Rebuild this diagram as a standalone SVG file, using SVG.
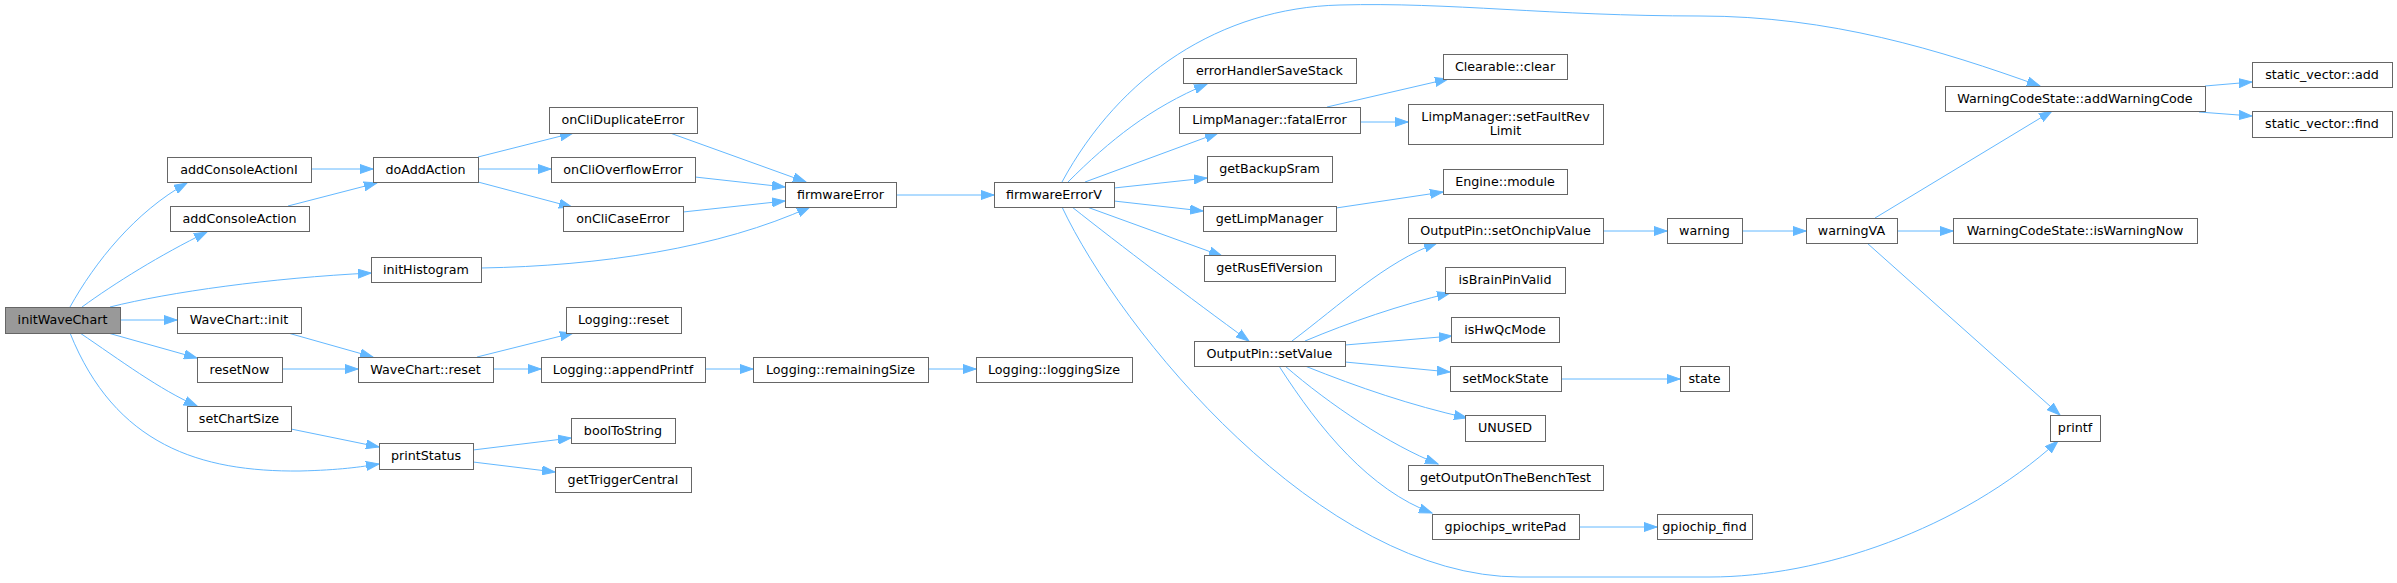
<svg xmlns="http://www.w3.org/2000/svg" width="2397" height="583" viewBox="0 0 2397 583">
<style>
.node rect{fill:#ffffff;stroke:#666666;stroke-width:1}
.root rect{fill:#999999}
text{font-family:"DejaVu Sans","Noto Sans",sans-serif;font-size:12.7px;text-anchor:middle;fill:#000000}
.edges path{fill:none;stroke:#63b8ff;stroke-width:1;marker-end:url(#a)}
</style>
<defs>
<marker id="a" markerWidth="14" markerHeight="10" refX="13" refY="5" orient="auto" markerUnits="userSpaceOnUse" viewBox="0 0 14 10"><path d="M0,0.5 L13,5 L0,9.5z" fill="#63b8ff" stroke="#63b8ff" stroke-width="1"/></marker>
</defs>
<rect width="2397" height="583" fill="#ffffff"/>
<g class="edges">
<path d="M70,307 C95,262 135,212 187,183"/>
<path d="M82,307 C115,283 160,255 207,232"/>
<path d="M110,307 C170,292 270,278 371,273"/>
<path d="M120,320 L177,320"/>
<path d="M108,333 L197,358"/>
<path d="M80,333 C120,360 160,390 197,406"/>
<path d="M70,333 C115,445 200,472 300,471 C340,470 360,467 379,464"/>
<path d="M311,169 L373,169"/>
<path d="M288,206 L377,183"/>
<path d="M288,333 L373,357"/>
<path d="M282,369 L358,369"/>
<path d="M291,429 L379,447"/>
<path d="M478,157 L573,133"/>
<path d="M478,169 L551,169"/>
<path d="M478,182 L572,207"/>
<path d="M670,133 L806,182"/>
<path d="M695,177 L785,187"/>
<path d="M683,212 L785,201"/>
<path d="M481,268 C600,266 720,248 810,207"/>
<path d="M477,357 L573,333"/>
<path d="M493,369 L541,369"/>
<path d="M705,369 L753,369"/>
<path d="M928,369 L976,369"/>
<path d="M473,450 L571,438"/>
<path d="M473,462 L555,472"/>
<path d="M896,195 L994,195"/>
<path d="M1062,182 C1120,75 1220,8 1340,5 C1450,2 1550,16 1700,16 C1830,16 1940,50 2040,86"/>
<path d="M1068,182 C1110,140 1150,108 1207,84"/>
<path d="M1085,182 L1218,133"/>
<path d="M1114,188 L1207,178"/>
<path d="M1114,201 L1203,211"/>
<path d="M1087,207 L1222,256"/>
<path d="M1072,207 C1120,245 1190,298 1249,341"/>
<path d="M1062,207 C1120,330 1320,577 1520,577 L1710,577 C1820,577 1960,530 2058,441"/>
<path d="M1327,107 L1448,79"/>
<path d="M1360,122 L1408,122"/>
<path d="M1336,208 L1443,192"/>
<path d="M1292,341 C1340,305 1385,262 1437,243"/>
<path d="M1305,341 C1350,322 1400,305 1450,293"/>
<path d="M1345,345 L1452,336"/>
<path d="M1345,362 L1450,372"/>
<path d="M1305,366 C1360,388 1410,405 1467,418"/>
<path d="M1285,366 C1330,405 1390,445 1438,464"/>
<path d="M1279,366 C1320,430 1370,490 1432,513"/>
<path d="M1561,379 L1680,379"/>
<path d="M1579,527 L1657,527"/>
<path d="M1603,231 L1667,231"/>
<path d="M1742,231 L1806,231"/>
<path d="M1875,218 L2052,111"/>
<path d="M1897,231 L1953,231"/>
<path d="M1867,243 L2060,415"/>
<path d="M2205,86 L2252,82"/>
<path d="M2199,112 L2252,116"/>
</g>
<g id="n_initWaveChart" class="node root"><rect x="5.5" y="307.5" width="115" height="26"/><text x="62.5" y="324.4">initWaveChart</text></g>
<g id="n_addConsoleActionI" class="node"><rect x="167.5" y="157.5" width="144" height="25"/><text x="239" y="173.9">addConsoleActionI</text></g>
<g id="n_addConsoleAction" class="node"><rect x="170.5" y="206.5" width="139" height="25"/><text x="239.5" y="222.9">addConsoleAction</text></g>
<g id="n_initHistogram" class="node"><rect x="371.5" y="257.5" width="110" height="25"/><text x="426" y="273.9">initHistogram</text></g>
<g id="n_WaveChart_init" class="node"><rect x="177.5" y="307.5" width="124" height="26"/><text x="239" y="324.4">WaveChart::init</text></g>
<g id="n_resetNow" class="node"><rect x="197.5" y="357.5" width="85" height="25"/><text x="239.5" y="373.9">resetNow</text></g>
<g id="n_setChartSize" class="node"><rect x="187.5" y="406.5" width="104" height="25"/><text x="239" y="422.9">setChartSize</text></g>
<g id="n_doAddAction" class="node"><rect x="373.5" y="157.5" width="105" height="25"/><text x="425.5" y="173.9">doAddAction</text></g>
<g id="n_WaveChart_reset" class="node"><rect x="358.5" y="357.5" width="135" height="25"/><text x="425.5" y="373.9">WaveChart::reset</text></g>
<g id="n_printStatus" class="node"><rect x="379.5" y="443.5" width="94" height="26"/><text x="426" y="460.4">printStatus</text></g>
<g id="n_onCliDuplicateError" class="node"><rect x="549.5" y="107.5" width="148" height="26"/><text x="623" y="124.4">onCliDuplicateError</text></g>
<g id="n_onCliOverflowError" class="node"><rect x="551.5" y="157.5" width="144" height="25"/><text x="623" y="173.9">onCliOverflowError</text></g>
<g id="n_onCliCaseError" class="node"><rect x="563.5" y="206.5" width="120" height="25"/><text x="623" y="222.9">onCliCaseError</text></g>
<g id="n_Logging_reset" class="node"><rect x="566.5" y="307.5" width="115" height="26"/><text x="623.5" y="324.4">Logging::reset</text></g>
<g id="n_Logging_appendPrintf" class="node"><rect x="541.5" y="357.5" width="164" height="25"/><text x="623" y="373.9">Logging::appendPrintf</text></g>
<g id="n_boolToString" class="node"><rect x="571.5" y="418.5" width="104" height="25"/><text x="623" y="434.9">boolToString</text></g>
<g id="n_getTriggerCentral" class="node"><rect x="555.5" y="467.5" width="136" height="25"/><text x="623" y="483.9">getTriggerCentral</text></g>
<g id="n_firmwareError" class="node"><rect x="785.5" y="182.5" width="111" height="25"/><text x="840.5" y="198.9">firmwareError</text></g>
<g id="n_Logging_remainingSize" class="node"><rect x="753.5" y="357.5" width="175" height="25"/><text x="840.5" y="373.9">Logging::remainingSize</text></g>
<g id="n_firmwareErrorV" class="node"><rect x="994.5" y="182.5" width="120" height="25"/><text x="1054" y="198.9">firmwareErrorV</text></g>
<g id="n_Logging_loggingSize" class="node"><rect x="976.5" y="357.5" width="156" height="25"/><text x="1054" y="373.9">Logging::loggingSize</text></g>
<g id="n_errorHandlerSaveStack" class="node"><rect x="1183.5" y="58.5" width="173" height="25"/><text x="1269.5" y="74.9">errorHandlerSaveStack</text></g>
<g id="n_LimpManager_fatalError" class="node"><rect x="1179.5" y="107.5" width="181" height="26"/><text x="1269.5" y="124.4">LimpManager::fatalError</text></g>
<g id="n_getBackupSram" class="node"><rect x="1207.5" y="156.5" width="125" height="26"/><text x="1269.5" y="173.4">getBackupSram</text></g>
<g id="n_getLimpManager" class="node"><rect x="1203.5" y="206.5" width="133" height="25"/><text x="1269.5" y="222.9">getLimpManager</text></g>
<g id="n_getRusEfiVersion" class="node"><rect x="1204.5" y="255.5" width="131" height="26"/><text x="1269.5" y="272.4">getRusEfiVersion</text></g>
<g id="n_OutputPin_setValue" class="node"><rect x="1194.5" y="341.5" width="151" height="25"/><text x="1269.5" y="357.9">OutputPin::setValue</text></g>
<g id="n_Clearable_clear" class="node"><rect x="1443.5" y="54.5" width="124" height="25"/><text x="1505" y="70.9">Clearable::clear</text></g>
<g id="n_LimpManager_setFaultRevLimit" class="node"><rect x="1408.5" y="104.5" width="195" height="40"/><text x="1505.5" y="120.5">LimpManager::setFaultRev</text><text x="1505.5" y="134.5">Limit</text></g>
<g id="n_Engine_module" class="node"><rect x="1443.5" y="169.5" width="124" height="25"/><text x="1505" y="185.9">Engine::module</text></g>
<g id="n_OutputPin_setOnchipValue" class="node"><rect x="1408.5" y="218.5" width="195" height="25"/><text x="1505.5" y="234.9">OutputPin::setOnchipValue</text></g>
<g id="n_isBrainPinValid" class="node"><rect x="1445.5" y="267.5" width="120" height="26"/><text x="1505" y="284.4">isBrainPinValid</text></g>
<g id="n_isHwQcMode" class="node"><rect x="1451.5" y="317.5" width="108" height="25"/><text x="1505" y="333.9">isHwQcMode</text></g>
<g id="n_setMockState" class="node"><rect x="1450.5" y="366.5" width="111" height="25"/><text x="1505.5" y="382.9">setMockState</text></g>
<g id="n_UNUSED" class="node"><rect x="1465.5" y="415.5" width="80" height="26"/><text x="1505" y="432.4">UNUSED</text></g>
<g id="n_getOutputOnTheBenchTest" class="node"><rect x="1408.5" y="465.5" width="195" height="25"/><text x="1505.5" y="481.9">getOutputOnTheBenchTest</text></g>
<g id="n_gpiochips_writePad" class="node"><rect x="1432.5" y="514.5" width="147" height="25"/><text x="1505.5" y="530.9">gpiochips_writePad</text></g>
<g id="n_warning" class="node"><rect x="1667.5" y="218.5" width="75" height="25"/><text x="1704.5" y="234.9">warning</text></g>
<g id="n_state" class="node"><rect x="1680.5" y="366.5" width="49" height="25"/><text x="1704.5" y="382.9">state</text></g>
<g id="n_gpiochip_find" class="node"><rect x="1657.5" y="514.5" width="95" height="25"/><text x="1704.5" y="530.9">gpiochip_find</text></g>
<g id="n_warningVA" class="node"><rect x="1806.5" y="218.5" width="91" height="25"/><text x="1851.5" y="234.9">warningVA</text></g>
<g id="n_addWarningCode" class="node"><rect x="1945.5" y="86.5" width="260" height="25"/><text x="2075" y="102.9">WarningCodeState::addWarningCode</text></g>
<g id="n_isWarningNow" class="node"><rect x="1953.5" y="218.5" width="244" height="25"/><text x="2075" y="234.9">WarningCodeState::isWarningNow</text></g>
<g id="n_printf" class="node"><rect x="2050.5" y="415.5" width="50" height="26"/><text x="2075" y="432.4">printf</text></g>
<g id="n_static_vector_add" class="node"><rect x="2252.5" y="62.5" width="140" height="25"/><text x="2322" y="78.9">static_vector::add</text></g>
<g id="n_static_vector_find" class="node"><rect x="2252.5" y="111.5" width="140" height="26"/><text x="2322" y="128.4">static_vector::find</text></g>
</svg>
